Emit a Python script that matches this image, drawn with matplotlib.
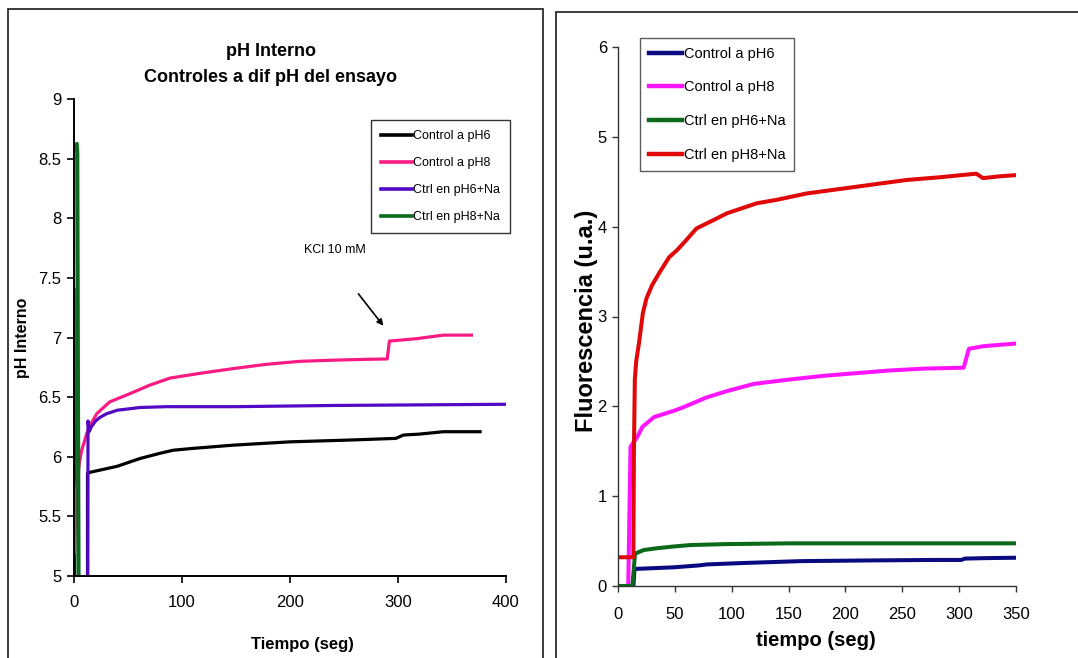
import matplotlib
matplotlib.use('Agg')
import matplotlib.pyplot as plt
from matplotlib import font_manager
from matplotlib.patches import Rectangle
from matplotlib.ticker import FuncFormatter

# ---------------- data: left panel (pH interno) ----------------
ph6_t = [0, 0.4, 12.5, 12.5, 15, 25, 40, 61, 80, 92, 110, 147, 200, 255, 298, 305, 320, 342, 376]
ph6_v = [7.4, 4.0, 4.0, 5.86, 5.87, 5.89, 5.92, 5.985, 6.03, 6.055, 6.07, 6.097, 6.125, 6.14, 6.154, 6.182, 6.19, 6.21, 6.21]

ph8_t = [0.5, 2, 5, 7, 12, 16, 21, 33, 52, 70, 89, 117, 148, 178, 209, 240, 271, 290, 292, 317, 342, 368]
ph8_v = [5.2, 5.7, 5.95, 6.05, 6.2, 6.28, 6.36, 6.46, 6.53, 6.60, 6.66, 6.70, 6.74, 6.775, 6.80, 6.81, 6.817, 6.82, 6.97, 6.99, 7.02, 7.02]

ph6na_t = [12.5, 13, 14, 16, 20, 24, 30, 40, 61, 86, 150, 240, 320, 399]
ph6na_v = [4.0, 6.30, 6.21, 6.25, 6.30, 6.33, 6.36, 6.39, 6.413, 6.42, 6.42, 6.43, 6.435, 6.44]

ph8na_t = [2.5, 3.0, 3.5, 4.5]
ph8na_v = [8.62, 8.55, 7.0, 4.0]

left_labels = ['Control a pH6', 'Control a pH8', 'Ctrl en pH6+Na', 'Ctrl en pH8+Na']
left_colors = ['#000000', '#FA1A84', '#5208C4', '#0B6A1E']
left_xticks = [0, 100, 200, 300, 400]
left_yticks = [5, 5.5, 6, 6.5, 7, 7.5, 8, 8.5, 9]

# ---------------- data: right panel (fluorescencia) ----------------
c6_t = [0, 13.5, 14.5, 15, 49, 72, 78, 108, 161, 225, 278, 302, 305, 322, 352]
c6_v = [0, 0, 0.19, 0.19, 0.208, 0.23, 0.24, 0.255, 0.277, 0.285, 0.29, 0.29, 0.305, 0.31, 0.315]

c8_t = [0, 9, 11, 17, 21.4, 31.6, 49, 57.5, 78, 96, 119.5, 151.7, 181, 210, 240, 269, 304, 308.5, 321.5, 351]
c8_v = [0, 0, 1.55, 1.66, 1.77, 1.88, 1.95, 1.99, 2.10, 2.17, 2.25, 2.30, 2.34, 2.37, 2.40, 2.42, 2.43, 2.64, 2.67, 2.70]

c6na_t = [0, 12.6, 15, 22.6, 34, 49, 64, 93, 152, 351]
c6na_v = [0, 0, 0.36, 0.40, 0.42, 0.44, 0.456, 0.466, 0.475, 0.475]

c8na_t = [0, 13.5, 14.0, 14.8, 16, 18.4, 21.9, 25, 30, 37, 45, 52, 60, 69, 85, 96, 122, 140, 166, 210, 254, 283, 315, 321, 335, 351]
c8na_v = [0.32, 0.32, 1.5, 2.3, 2.5, 2.7, 3.04, 3.2, 3.35, 3.5, 3.66, 3.74, 3.85, 3.98, 4.08, 4.15, 4.26, 4.3, 4.37, 4.445, 4.52, 4.55, 4.59, 4.54, 4.56, 4.575]

right_labels = ['Control a pH6', 'Control a pH8', 'Ctrl en pH6+Na', 'Ctrl en pH8+Na']
right_colors = ['#0A0A80', '#FF14FF', '#0A6A1A', '#E00808']
right_xticks = [0, 50, 100, 150, 200, 250, 300, 350]
right_yticks = [0, 1, 2, 3, 4, 5, 6]

# ---------------- fonts ----------------
avail = {f.name for f in font_manager.fontManager.ttflist}
SANS = 'Liberation Sans' if 'Liberation Sans' in avail else 'DejaVu Sans'
NARROW = 'Liberation Sans Narrow' if 'Liberation Sans Narrow' in avail else SANS
plt.rcParams['font.family'] = [SANS, 'DejaVu Sans']

W, H = 1078, 658
fig = plt.figure(figsize=(W / 100, H / 100), dpi=100)


def fx(px):
    return px / W


def fy(py):
    return 1 - py / H


# panel frames
fig.patches.append(Rectangle((fx(8), fy(720)), fx(543) - fx(8), fy(9) - fy(720),
                             transform=fig.transFigure, fill=False, lw=1.2, ec='#1a1a1a'))
fig.patches.append(Rectangle((fx(556), fy(720)), fx(1120) - fx(556), fy(12) - fy(720),
                             transform=fig.transFigure, fill=False, lw=1.2, ec='#1a1a1a'))

gfmt = FuncFormatter(lambda v, p: '%g' % v)

# ---------------- left axes ----------------
ax1 = fig.add_axes([fx(74), fy(576), fx(506) - fx(74), fy(99) - fy(576)])
series_l = [(ph6_t, ph6_v), (ph8_t, ph8_v), (ph6na_t, ph6na_v), (ph8na_t, ph8na_v)]
for (t, v), c, lab in zip(series_l, left_colors, left_labels):
    lw = 3.0 if lab == 'Ctrl en pH8+Na' else 2.3
    ax1.plot(t, v, color=c, lw=lw, label=lab, solid_joinstyle='round')
ax1.set_xlim(0, 400)
ax1.set_ylim(5, 9)
ax1.set_xticks(left_xticks)
ax1.set_yticks(left_yticks)
ax1.xaxis.set_major_formatter(gfmt)
ax1.yaxis.set_major_formatter(gfmt)
for s in ['top', 'right']:
    ax1.spines[s].set_visible(False)
for s in ['left', 'bottom']:
    ax1.spines[s].set_linewidth(1.4)
ax1.tick_params(axis='both', direction='out', length=5, width=1.2, labelsize=12)
ax1.tick_params(axis='x', pad=9)
ax1.tick_params(axis='y', pad=4)
ax1.patch.set_alpha(0)

leg1 = ax1.legend(loc='upper left', bbox_to_anchor=(fx(371), fy(120)), bbox_transform=fig.transFigure,
                  frameon=True, fancybox=False, edgecolor='black', fontsize=9, handlelength=2.5,
                  handletextpad=0.05, labelspacing=1.2, borderpad=0.8, borderaxespad=0)
leg1.get_frame().set_linewidth(1.0)
for ln in leg1.get_lines():
    ln.set_linewidth(2.6)

ax1.annotate('', xy=(288, 7.08), xytext=(261.8, 7.384),
             arrowprops=dict(arrowstyle='-|>', color='black', lw=1.2, mutation_scale=9))
ax1.text(241.7, 7.73, 'KCl 10 mM', fontsize=9, ha='center', va='center')

fig.text(fx(271), fy(52), 'pH Interno', ha='center', va='center', fontsize=13, fontweight='bold')
fig.text(fx(271), fy(78), 'Controles a dif pH del ensayo', ha='center', va='center',
         fontsize=13, fontweight='bold')
fig.text(fx(23), fy(338), 'pH Interno', ha='center', va='center', rotation=90,
         fontsize=11.5, fontweight='bold')
fig.text(fx(302), fy(645), 'Tiempo (seg)', ha='center', va='center', fontsize=12, fontweight='bold')

# ---------------- right axes ----------------
ax2 = fig.add_axes([fx(618), fy(586), fx(1016) - fx(618), fy(47) - fy(586)])
series_r = [(c6_t, c6_v), (c8_t, c8_v), (c6na_t, c6na_v), (c8na_t, c8na_v)]
for (t, v), c, lab in zip(series_r, right_colors, right_labels):
    ax2.plot(t, v, color=c, lw=2.9, label=lab, solid_joinstyle='round')
ax2.set_xlim(0, 350)
ax2.set_ylim(0, 6)
ax2.set_xticks(right_xticks)
ax2.set_yticks(right_yticks)
ax2.xaxis.set_major_formatter(gfmt)
ax2.yaxis.set_major_formatter(gfmt)
for s in ['top', 'right']:
    ax2.spines[s].set_visible(False)
for s in ['left', 'bottom']:
    ax2.spines[s].set_linewidth(1.0)
    ax2.spines[s].set_color('#333333')
ax2.tick_params(axis='both', direction='out', length=4, width=1.0, color='#333333', labelsize=12)
ax2.tick_params(axis='x', pad=11)
ax2.tick_params(axis='y', pad=4)
for lbl in ax2.get_xticklabels() + ax2.get_yticklabels():
    lbl.set_fontfamily(NARROW)
ax2.patch.set_alpha(0)

leg2 = ax2.legend(loc='upper left', bbox_to_anchor=(fx(640), fy(38)), bbox_transform=fig.transFigure,
                  frameon=True, fancybox=False, edgecolor='#333333',
                  prop={'family': NARROW, 'size': 10.5}, handlelength=2.3,
                  handletextpad=0.1, labelspacing=1.35, borderpad=0.6, borderaxespad=0)
leg2.get_frame().set_linewidth(1.0)
for ln in leg2.get_lines():
    ln.set_linewidth(3.2)

fig.text(fx(587), fy(321), 'Fluorescencia (u.a.)', ha='center', va='center', rotation=90,
         fontsize=17, fontweight='bold')
fig.text(fx(816), fy(640), 'tiempo (seg)', ha='center', va='center', fontsize=14.5,
         fontweight='bold', family=NARROW)

fig.savefig('out.png', dpi=100)
